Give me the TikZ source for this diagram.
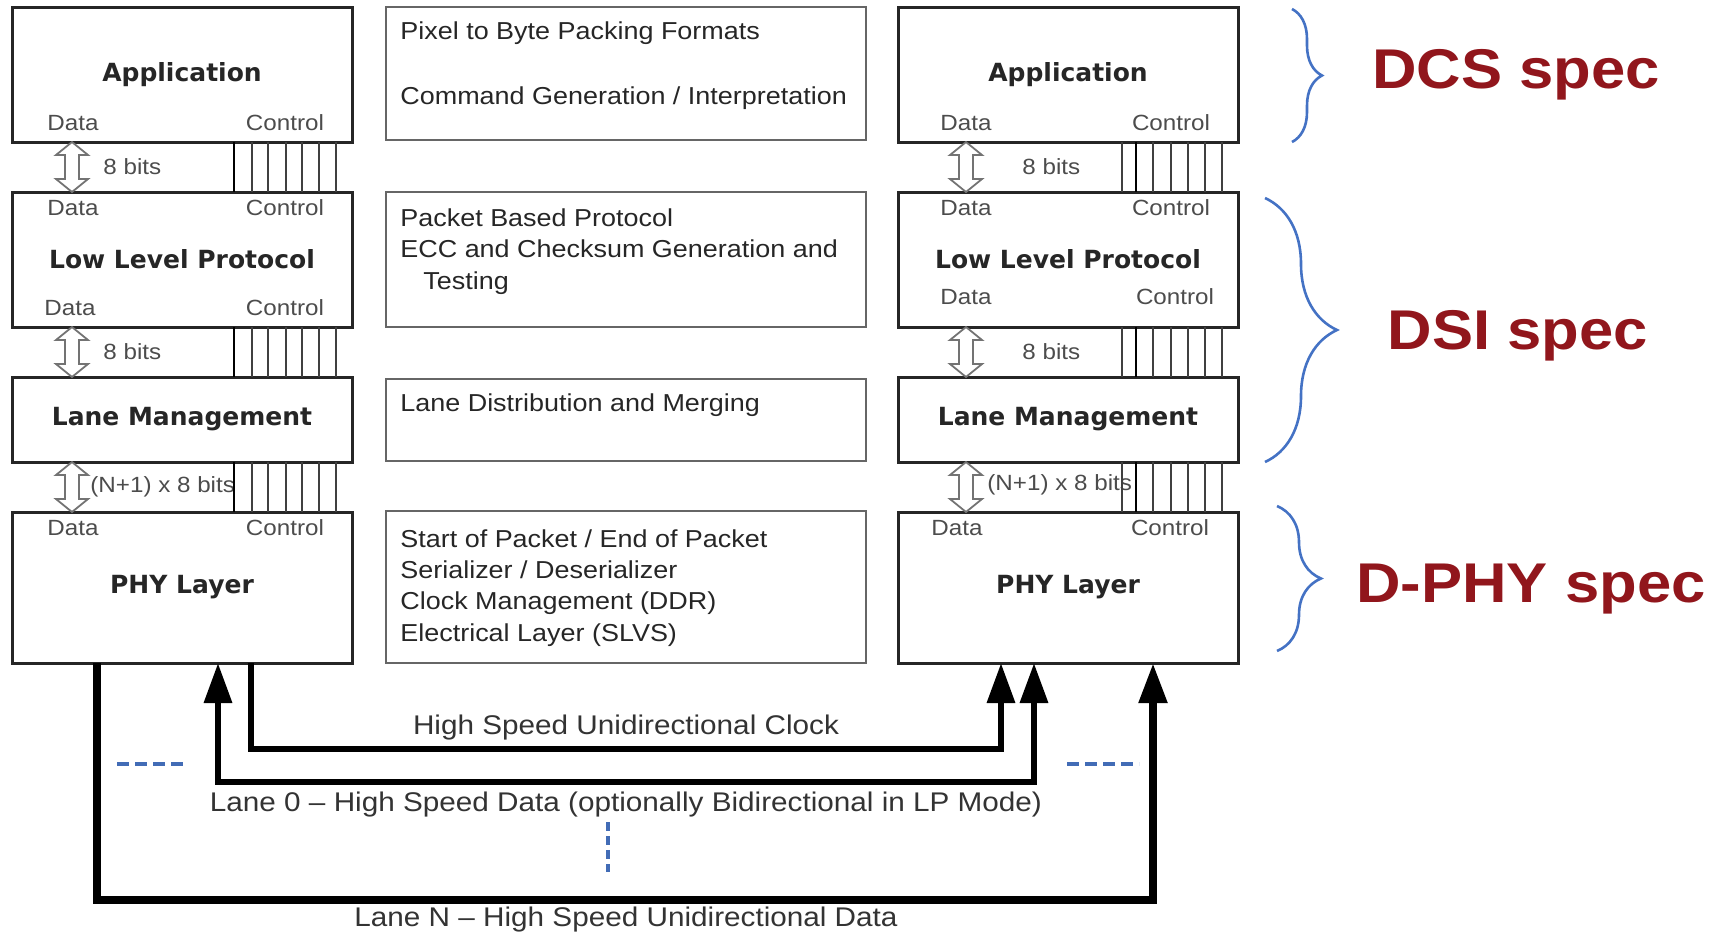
\documentclass[tikz,border=0pt]{standalone}
\usepackage{fontspec}
\setmainfont{Liberation Sans}[FakeStretch=1.1]
\newfontfamily\titlefont{DejaVu Sans}
\usetikzlibrary{arrows.meta,decorations.pathreplacing,calc}
\definecolor{specred}{RGB}{145,22,28}
\definecolor{braceblue}{RGB}{68,114,196}
\definecolor{dashblue}{RGB}{66,108,182}
\begin{document}
\begin{tikzpicture}[x=0.5pt,y=-0.5pt,
  layer/.style={draw=black!85, line width=1.5pt, inner sep=0pt, outer sep=0pt,
    minimum width=170pt, font=\titlefont\bfseries\fontsize{12.5}{15}\selectfont, text=black!85},
  info/.style={draw=black!60, line width=1pt, inner sep=0pt, outer sep=0pt, minimum width=240pt},
  port/.style={font=\fontsize{11}{13}\selectfont, text=black!70, inner sep=0pt},
  note/.style={font=\fontsize{12.25}{15}\selectfont, text=black!85, anchor=west, inner sep=0pt},
  lbl/.style={font=\fontsize{13.5}{16}\selectfont, text=black!80, inner sep=0pt},
  spec/.style={font=\bfseries\fontsize{28}{32}\selectfont, text=specred, inner sep=0pt},
  ctl/.style={draw=black!75, line width=0.7pt},
  ctlmain/.style={draw=black, line width=1.4pt},
  hollow/.style={draw=black!55, line width=0.9pt, fill=white, line join=miter},
  bus/.style={draw=black, line width=3.2pt, line join=miter},
  busarrow/.style={-{Triangle[length=20pt,width=13.5pt]}},
  busboth/.style={{Triangle[length=20pt,width=13.5pt]}-{Triangle[length=20pt,width=13.5pt]}},
  specbrace/.style={draw=braceblue, line width=1.3pt, decorate,
    decoration={brace, amplitude=#1}},
  bluedash/.style={draw=dashblue, line width=2pt},
]
\useasboundingbox (0,0) rectangle (1725,934);

% ---- host-side stack ----
\node[layer, minimum height=67.5pt] (lapp) at (182,74.5) {Application};
\node[layer, minimum height=67.5pt] (llp)  at (182,259.5) {Low Level Protocol};
\node[layer, minimum height=42.5pt] (llm)  at (182,419.5) {Lane Management};
\node[layer, minimum height=75.5pt] (lphy) at (182,587.5) {PHY Layer};

% ---- peripheral-side stack ----
\node[layer, minimum height=67.5pt] (rapp) at (1068,74.5) {Application};
\node[layer, minimum height=67.5pt] (rlp)  at (1068,259.5) {Low Level Protocol};
\node[layer, minimum height=42.5pt] (rlm)  at (1068,419.5) {Lane Management};
\node[layer, minimum height=75.5pt] (rphy) at (1068,587.5) {PHY Layer};

% ---- function descriptions ----
\node[info, minimum height=66.5pt] (m1) at (626,73.5) {};
\node[info, minimum height=67.5pt] (m2) at (626,259.5) {};
\node[info, minimum height=41pt]   (m3) at (626,420) {};
\node[info, minimum height=76pt]   (m4) at (626,587) {};

\node[note] (t1a) at (400,33)  {Pixel to Byte Packing Formats};
\node[note] (t1b) at (400,98)  {Command Generation / Interpretation};
\node[note] (t2a) at (400,218) {Packet Based Protocol};
\node[note] (t2b) at (400,249) {ECC and Checksum Generation and};
\node[note] (t2c) at (423,283) {Testing};
\node[note] (t3a) at (400,405) {Lane Distribution and Merging};
\node[note] (t4a) at (400,539) {Start of Packet / End of Packet};
\node[note] (t4b) at (400,570) {Serializer / Deserializer};
\node[note] (t4c) at (400,603) {Clock Management (DDR)};
\node[note] (t4d) at (400,635) {Electrical Layer (SLVS)};

% ---- port labels ----
\node[port] (lpd1) at (73,123)  {Data};    \node[port] (lpc1) at (285,123) {Control};
\node[port] (lpd2) at (73,208)  {Data};    \node[port] (lpc2) at (285,208) {Control};
\node[port] (lpd3) at (70,308)  {Data};    \node[port] (lpc3) at (285,308) {Control};
\node[port] (lpd4) at (73,528)  {Data};    \node[port] (lpc4) at (285,528) {Control};
\node[port] (rpd1) at (966,123) {Data};    \node[port] (rpc1) at (1171,123) {Control};
\node[port] (rpd2) at (966,208) {Data};    \node[port] (rpc2) at (1171,208) {Control};
\node[port] (rpd3) at (966,297) {Data};    \node[port] (rpc3) at (1175,297) {Control};
\node[port] (rpd4) at (957,528) {Data};    \node[port] (rpc4) at (1170,528) {Control};

% ---- data paths between layers ----
\coordinate (dL) at (72,0);
\coordinate (dR) at (966,0);
\foreach \u in {lapp,llp,llm}
  \draw[hollow] (\u.south -| dL) -- ++(16,13) -- ++(-9,0) -- ++(0,24) -- ++(9,0)
    -- ++(-16,13) -- ++(-16,-13) -- ++(9,0) -- ++(0,-24) -- ++(-9,0) -- cycle;
\foreach \u in {rapp,rlp,rlm}
  \draw[hollow] (\u.south -| dR) -- ++(16,13) -- ++(-9,0) -- ++(0,24) -- ++(9,0)
    -- ++(-16,13) -- ++(-16,-13) -- ++(9,0) -- ++(0,-24) -- ++(-9,0) -- cycle;

\node[port, anchor=west] (lb1) at (103,167) {8 bits};
\node[port, anchor=west] (lb2) at (103,352) {8 bits};
\node[port, anchor=west] (lb3) at (90,487)  {(N+1) x 8 bits};
\node[port, anchor=west] (rb1) at (1022,167) {8 bits};
\node[port, anchor=west] (rb2) at (1022,352) {8 bits};
\node[port, anchor=west] (rb3) at (987,485)  {(N+1) x 8 bits};

% ---- control lines between layers ----
\foreach \u/\v in {lapp/llp, llp/llm, llm/lphy} {
  \draw[ctlmain] ([xshift=111pt]\u.south west) -- ([xshift=111pt]\v.north west);
  \foreach \o in {120,128,137,145,153.5,162}
    \draw[ctl] ([xshift=\o pt]\u.south west) -- ([xshift=\o pt]\v.north west);
}
\foreach \u/\v in {rapp/rlp, rlp/rlm, rlm/rphy} {
  \draw[ctlmain] ([xshift=119pt]\u.south west) -- ([xshift=119pt]\v.north west);
  \foreach \o in {112,127.5,136.5,145,153.5,162}
    \draw[ctl] ([xshift=\o pt]\u.south west) -- ([xshift=\o pt]\v.north west);
}

% ---- high speed lanes ----
\coordinate (clkA) at (251,749);  \coordinate (clkB) at (1001,749);
\coordinate (ln0A) at (218,782);  \coordinate (ln0B) at (1034,782);
\coordinate (lnNA) at (97,900);   \coordinate (lnNB) at (1153,900);
\draw[bus, busarrow] (lphy.south -| clkA) -- (clkA) -- (clkB) -- (rphy.south -| clkB);
\draw[bus, busboth]  (lphy.south -| ln0A) -- (ln0A) -- (ln0B) -- (rphy.south -| ln0B);
\draw[bus, busarrow, line width=4pt] (lphy.south -| lnNA) -- (lnNA) -- (lnNB) -- (rphy.south -| lnNB);

\node[lbl] (clkT) at (626,728) {High Speed Unidirectional Clock};
\node[lbl] (ln0T) at (626,805) {Lane 0 -- High Speed Data (optionally Bidirectional in LP Mode)};
\node[lbl] (lnNT) at (626,919) {Lane N -- High Speed Unidirectional Data};

% ---- elision marks ----
\draw[bluedash, dash pattern=on 6pt off 3pt] (117,764) -- (185,764);
\draw[bluedash, dash pattern=on 6pt off 3pt] (1067,764) -- (1139,764);
\draw[bluedash, dash pattern=on 4.5pt off 2.5pt] (608,822) -- (608,872);

% ---- specification scopes ----
\draw[specbrace=15pt] (1292,9) -- (1292,142);
\draw[specbrace=36pt] (1265,198) -- (1265,462);
\draw[specbrace=22pt] (1277,506) -- (1277,651);
\node[spec] (dcs)  at (1516,75)  {DCS spec};
\node[spec] (dsi)  at (1518,336) {DSI spec};
\node[spec] (dphy) at (1531,589) {D-PHY spec};
\end{tikzpicture}
\end{document}
